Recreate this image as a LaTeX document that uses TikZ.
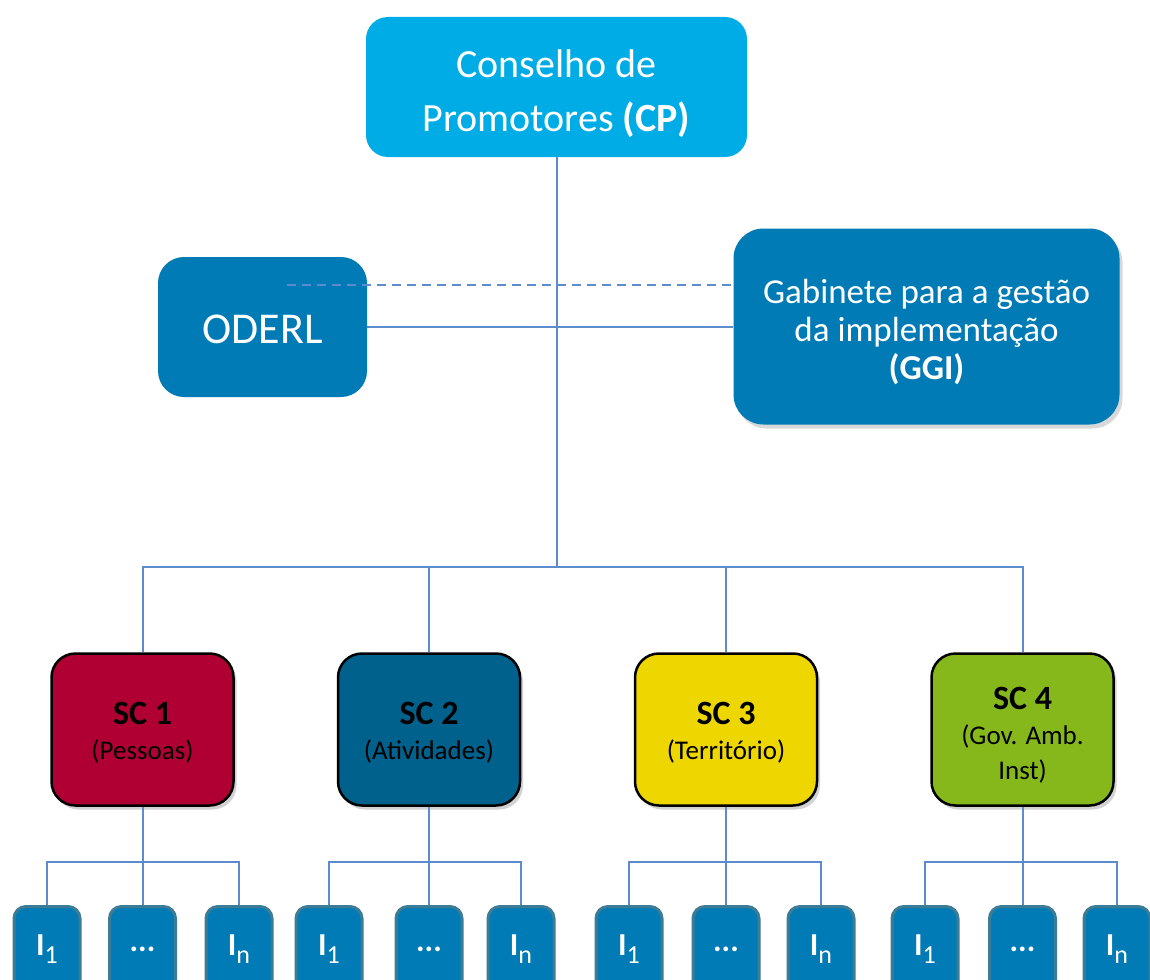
\documentclass[tikz,border=0pt]{standalone}
\usepackage{fontspec}
\setmainfont{Carlito}
\usetikzlibrary{shadows}
\definecolor{cpblue}{RGB}{0,172,230}
\definecolor{midblue}{RGB}{0,123,181}
\definecolor{iborder}{RGB}{62,124,150}
\definecolor{linecol}{RGB}{92,140,206}
\definecolor{scred}{RGB}{176,0,51}
\definecolor{scteal}{RGB}{0,98,140}
\definecolor{scyellow}{RGB}{238,214,0}
\definecolor{scgreen}{RGB}{134,184,27}
\newcommand{\isub}[1]{I\raisebox{-8pt}{\mdseries\fontsize{26}{26}\selectfont #1}}
\newcommand{\lift}[1]{\rule{0pt}{#1}}
\begin{document}
\begin{tikzpicture}[x=1pt,y=-1pt,
  topbox/.style={fill=cpblue, rounded corners=22pt, text=white, align=center, inner sep=0pt,
    minimum width=381pt, minimum height=140pt, font=\fontsize{40}{54}\selectfont},
  sidebox/.style={fill=midblue, rounded corners=26pt, text=white, align=center, inner sep=0pt},
  scbox/.style={draw=black, line width=2.5pt, rounded corners=24pt, minimum width=182pt,
    minimum height=152pt, inner sep=0pt, align=center, font=\fontsize{27}{35}\selectfont,
    drop shadow={shadow xshift=3pt, shadow yshift=-4pt, opacity=0.35}},
  ibox/.style={draw=iborder, line width=3pt, fill=midblue, rounded corners=12pt,
    minimum width=66pt, minimum height=86pt, inner sep=0pt, anchor=north, text=white,
    font=\bfseries\fontsize{32}{32}\selectfont},
  link/.style={draw=linecol, line width=2pt},
  dashlink/.style={draw=linecol, line width=2.2pt, dash pattern=on 9pt off 6pt}
]
\useasboundingbox (0,0) rectangle (1150,979);
\fill[white] (0,0) rectangle (1150,979);
\clip (0,0) rectangle (1150,979);

% top level
\node[topbox] (cp) at (556.5,87) {\lift{42pt}Conselho de\\Promotores \textbf{(CP)}};
\node[sidebox, minimum width=209pt, minimum height=140pt, font=\fontsize{44}{44}\selectfont] (oderl) at (262.5,327) {\lift{34pt}ODERL};
\node[sidebox, minimum width=386pt, minimum height=196pt, rounded corners=30pt,
  font=\fontsize{35}{38}\selectfont,
  drop shadow={shadow xshift=3pt, shadow yshift=-4pt, opacity=0.3}] (ggi) at (926.5,326.5)
  {\lift{36pt}Gabinete para a gestão\\da implementação\\\textbf{(GGI)}};

% sub-commissions
\node[scbox, fill=scred] (sc1) at (142.5,729.5) {\lift{28pt}\textbf{\fontsize{34}{35}\selectfont SC 1}\\(Pessoas)};
\node[scbox, fill=scteal] (sc2) at (429,729.5) {\lift{28pt}\textbf{\fontsize{34}{35}\selectfont SC 2}\\(Atividades)};
\node[scbox, fill=scyellow] (sc3) at (726,729.5) {\lift{28pt}\textbf{\fontsize{34}{35}\selectfont SC 3}\\(Território)};
\node[scbox, fill=scgreen] (sc4) at (1022.5,729.5) {\lift{34pt}\textbf{\fontsize{34}{34}\selectfont SC 4}\\(Gov. Amb.\\Inst)};

% indicator boxes
\node[ibox] (i11) at (47,905) {\isub{1}};
\node[ibox] (i12) at (142.5,905) {...};
\node[ibox] (i13) at (239,905) {\isub{n}};
\node[ibox] (i21) at (329,905) {\isub{1}};
\node[ibox] (i22) at (429,905) {...};
\node[ibox] (i23) at (521,905) {\isub{n}};
\node[ibox] (i31) at (629,905) {\isub{1}};
\node[ibox] (i32) at (726,905) {...};
\node[ibox] (i33) at (821,905) {\isub{n}};
\node[ibox] (i41) at (925,905) {\isub{1}};
\node[ibox] (i42) at (1022.5,905) {...};
\node[ibox] (i43) at (1117,905) {\isub{n}};

% connectors
\coordinate (bus) at (556,567);
\coordinate (dstart) at (287,285);
\draw[link] (cp.south) -- (cp.south |- bus);
\draw[link] (oderl.east) -- (oderl.east -| ggi.west);
\draw[dashlink] (dstart) -- (dstart -| ggi.west);
\draw[link] (sc1.north) -- (sc1.north |- bus) -- (sc4.north |- bus) -- (sc4.north);
\draw[link] (sc2.north) -- (sc2.north |- bus);
\draw[link] (sc3.north) -- (sc3.north |- bus);

\coordinate (lbus) at (0,862);
\foreach \g in {1,2,3,4}{
  \draw[link] (sc\g.south) -- (i\g2.north);
  \draw[link] (i\g1.north) -- (i\g1.north |- lbus) -- (i\g3.north |- lbus) -- (i\g3.north);
}
\end{tikzpicture}
\end{document}
